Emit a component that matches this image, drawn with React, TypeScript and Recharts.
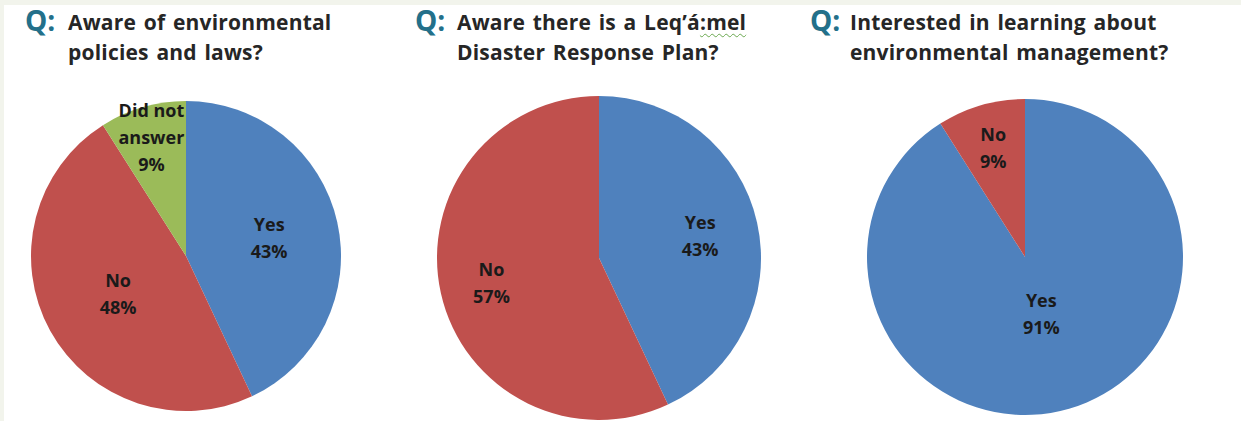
import React from 'react';
import { PieChart, Pie, Cell } from 'recharts';

// values (percent)
const policyNames = ['Yes', 'No', 'Did not answer'];
const policyValues = [43, 48, 9];

const planNames = ['Yes', 'No'];
const planValues = [43, 57];

const learnNames = ['Yes', 'No'];
const learnValues = [91, 9];

const questions = [
  ['Aware of environmental', 'policies and laws?'],
  ['Aware there is a Leq\u2019\u00e1:mel', 'Disaster Response Plan?'],
  ['Interested in learning about', 'environmental management?'],
];

const COLORS = ['#4f81bd', '#c0504d', '#9bbb59'];
const RADIAN = Math.PI / 180;
const FONT = '"Open Sans", Lato, sans-serif';

const toRows = (names: string[], values: number[]) =>
  names.map((name, i) => ({ name, value: values[i] }));

// label distance from centre, as a share of the radius, one per slice
const makeLabel = (factors: number[]) => (props: any) => {
  const { cx, cy, midAngle, outerRadius, percent, name, index } = props;
  const r = outerRadius * factors[index];
  const x = cx + r * Math.cos(-midAngle * RADIAN);
  const y = cy + r * Math.sin(-midAngle * RADIAN);
  const words = name === 'Did not answer' ? ['Did not', 'answer'] : [name];
  const lines = [...words, `${Math.round(percent * 100)}%`];
  const lh = 27;
  const y0 = y - ((lines.length - 1) * lh) / 2;
  return (
    <text
      x={x}
      y={y0}
      textAnchor="middle"
      dominantBaseline="central"
      fill="#1a1a1a"
      fontFamily={FONT}
      fontWeight={700}
      fontSize={18}
    >
      {lines.map((l, i) => (
        <tspan key={i} x={x} dy={i === 0 ? 0 : lh}>
          {l}
        </tspan>
      ))}
    </text>
  );
};

const pies = [
  { data: toRows(policyNames, policyValues), cx: 186, cy: 256, r: 155, factors: [0.55, 0.5, 0.8] },
  { data: toRows(planNames, planValues), cx: 599, cy: 258, r: 162, factors: [0.64, 0.68] },
  { data: toRows(learnNames, learnValues), cx: 1025, cy: 257, r: 158, factors: [0.37, 0.72] },
];

const titleX = [
  { q: 25, t: 68 },
  { q: 415, t: 457 },
  { q: 810, t: 850 },
];

const Title: React.FC<{ idx: number }> = ({ idx }) => {
  const [l1, l2] = questions[idx];
  const pos = titleX[idx];
  const first =
    idx === 1 ? (
      <>
        Aware there is a Leq{'\u2019'}{'\u00e1'}
        <span style={{ textDecoration: 'underline wavy #6aa84f', textDecorationThickness: 1, textUnderlineOffset: 3 }}>:mel</span>
      </>
    ) : (
      l1
    );
  return (
    <>
      <div
        style={{
          position: 'absolute',
          left: pos.q,
          top: 5,
          lineHeight: '30px',
          fontSize: 28,
          fontWeight: 700,
          color: '#23708a',
          fontFamily: FONT,
        }}
      >
        Q:
      </div>
      <div
        style={{
          position: 'absolute',
          left: pos.t,
          top: 7,
          lineHeight: '30px',
          fontSize: 21,
          fontWeight: 700,
          color: '#262626',
          fontFamily: FONT,
          letterSpacing: 0.2,
          wordSpacing: 2,
          whiteSpace: 'nowrap',
        }}
      >
        <div>{first}</div>
        <div>{l2}</div>
      </div>
    </>
  );
};

export default function App() {
  return (
    <div style={{ position: 'absolute', left: 0, top: 0, width: 1241, height: 421, background: '#ffffff', overflow: 'hidden' }}>
      <div style={{ position: 'absolute', left: 0, top: 0, width: 1241, height: 5, background: '#f2f4ec' }} />
      <div style={{ position: 'absolute', left: 0, top: 0, width: 4, height: 421, background: '#f2f4ec' }} />
      <PieChart
        width={1241}
        height={421}
        margin={{ top: 0, right: 0, bottom: 0, left: 0 }}
        style={{ position: 'absolute', left: 0, top: 0 }}
      >
        {pies.map((p, i) => (
          <Pie
            key={i}
            data={p.data}
            dataKey="value"
            nameKey="name"
            cx={p.cx}
            cy={p.cy}
            outerRadius={p.r}
            startAngle={90}
            endAngle={-270}
            stroke="none"
            label={makeLabel(p.factors)}
            labelLine={false}
            isAnimationActive={false}
          >
            {p.data.map((_, j) => (
              <Cell key={j} fill={COLORS[j]} />
            ))}
          </Pie>
        ))}
      </PieChart>
      {[0, 1, 2].map((i) => (
        <Title key={i} idx={i} />
      ))}
    </div>
  );
}
